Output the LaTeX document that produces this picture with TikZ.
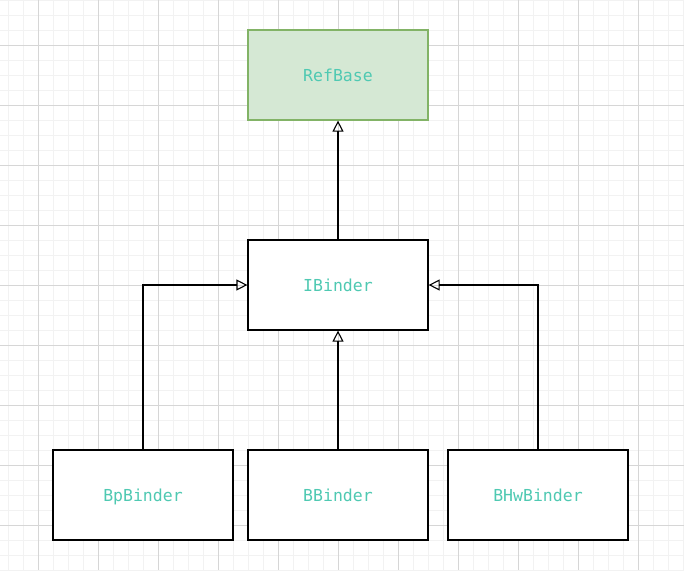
\documentclass[tikz,border=0pt]{standalone}
\usepackage{fontspec}
\setmonofont{DejaVu Sans Mono}
\usetikzlibrary{arrows.meta}
\definecolor{txt}{HTML}{4FC9B2}
\definecolor{gfill}{HTML}{D5E8D4}
\definecolor{gdraw}{HTML}{82B366}
\definecolor{gminor}{HTML}{F2F2F2}
\definecolor{gmajor}{HTML}{D6D6D6}
\tikzset{
  cls/.style={draw=black, line width=1.2pt, fill=white, minimum width=180pt, minimum height=90pt, inner sep=0pt, text height=12.5pt, text depth=0pt, font=\ttfamily\fontsize{16.5}{18}\selectfont, text=txt},
  base/.style={cls, draw=gdraw, fill=gfill},
  inh/.style={draw=black, line width=1.1pt, -{Triangle[open, length=11pt, width=11pt, line width=1.1pt]}}
}
\begin{document}
\begin{tikzpicture}[x=1pt, y=-1pt]
\useasboundingbox (0,0) rectangle (684,570);
\fill[white] (0,0) rectangle (684,570);
\foreach \x in {8,23,...,684} \draw[gminor, line width=1pt] (\x,0) -- (\x,570);
\foreach \y in {0,15,...,570} \draw[gminor, line width=1pt] (0,\y) -- (684,\y);
\foreach \x in {38,98,...,684} \draw[gmajor, line width=0.8pt] (\x,0) -- (\x,570);
\foreach \y in {45,105,...,570} \draw[gmajor, line width=0.8pt] (0,\y) -- (684,\y);

\node[base] (ref) at (338,75) {RefBase};
\node[cls] (ib) at (338,285) {IBinder};
\node[cls] (bp) at (143,495) {BpBinder};
\node[cls] (bb) at (338,495) {BBinder};
\node[cls] (bhw) at (538,495) {BHwBinder};

\draw[inh] (ib.north) -- (ref.south);
\draw[inh] (bb.north) -- (ib.south);
\draw[inh] (bp.north) |- (ib.west);
\draw[inh] (bhw.north) |- (ib.east);
\end{tikzpicture}
\end{document}
